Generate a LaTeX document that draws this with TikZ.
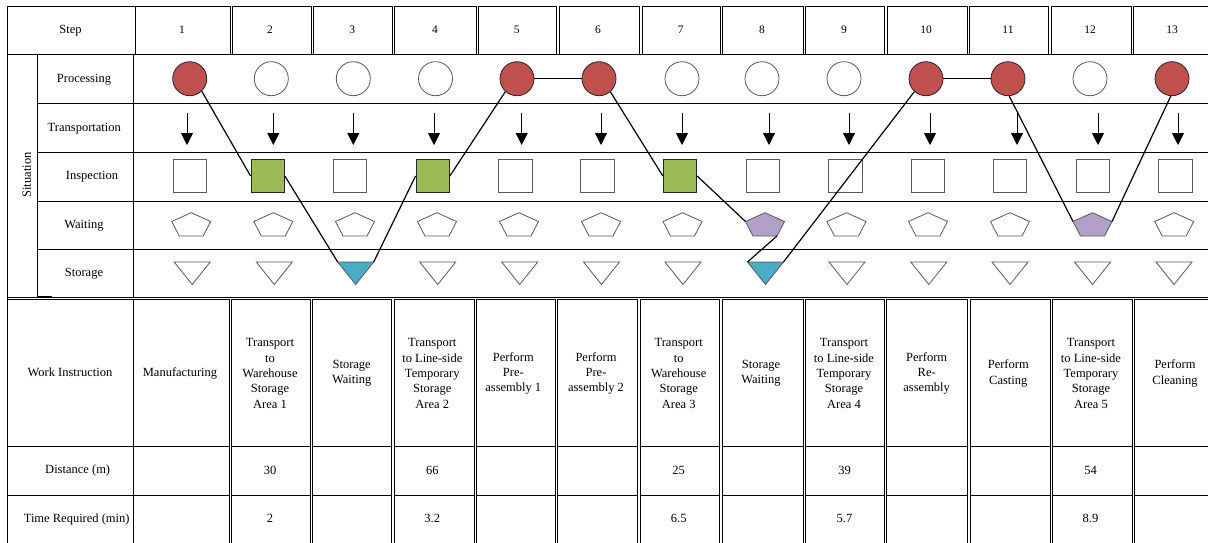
\documentclass[tikz,border=0pt]{standalone}
\usepackage{fontspec}
\setmainfont{Liberation Serif}
\usetikzlibrary{arrows.meta}
\definecolor{procred}{HTML}{C0504D}
\definecolor{inspgreen}{HTML}{9BBB59}
\definecolor{stocyan}{HTML}{4BACC6}
\definecolor{waitpurple}{HTML}{B1A0C7}
\definecolor{shapegray}{HTML}{595959}
\begin{document}
\begin{tikzpicture}[x=1pt,y=-1pt,
  gridline/.style={draw=black,line width=0.7pt},
  lbl/.style={font=\fontsize{12.5}{15.3}\selectfont,inner sep=0pt,text height=8.4pt,text depth=2.6pt},
  hd/.style={font=\fontsize{11.5}{14}\selectfont,inner sep=0pt,text height=7.8pt,text depth=2.4pt},
  mtxt/.style={font=\fontsize{12.5}{15.3}\selectfont,inner sep=0pt,align=center},
  poff/.style={circle,draw=shapegray,line width=0.8pt,minimum size=34pt,inner sep=0pt},
  pon/.style={poff,draw=black!85,fill=procred},
  ioff/.style={rectangle,draw=shapegray,line width=0.8pt,minimum size=33.5pt,inner sep=0pt},
  ion/.style={ioff,draw=black!85,fill=inspgreen},
  shapeline/.style={draw=shapegray,line width=0.8pt,line join=miter},
  conn/.style={draw=black,line width=1.2pt},
  tarrow/.style={-{Triangle[width=12pt,length=12pt]},draw=black,line width=0.8pt}]
\useasboundingbox (0,0) rectangle (1208,542);
\fill[white] (0,0) rectangle (1208,542);

% ---------- header row ----------
\draw[gridline] (7,6) rectangle (135,54);
\draw[gridline] (135,6) rectangle (230,54);
\foreach \l/\r in {232/311,313/392,394/476,478/556.7,559/639,642/720.7,722.7/803,805/884,887/967,969/1048,1051/1131,1133/1215}
  \draw[gridline] (\l,6) rectangle (\r,54);
\node[lbl] (hstep) at (70.5,31) {Step};
\foreach \k/\x in {1/182,2/270,3/352.3,4/435,5/516.7,6/598,7/680.7,8/762,9/844,10/926,11/1008,12/1090,13/1172}
  \node[hd] (h\k) at (\x,31) {\k};

% ---------- situation block ----------
\draw[gridline] (7,54) -- (1215,54);
\draw[gridline] (7,6) -- (7,545);
\draw[gridline] (37,54) -- (37,297);
\draw[gridline] (133,54) -- (133,297);
\foreach \y in {103,152,201,249}
  \draw[gridline] (37,\y) -- (1215,\y);
\draw[gridline] (7,297) -- (1215,297);
\draw[black,line width=1.8pt] (37,297) -- (52,297);

\node[lbl,rotate=90] (sit) at (28,175) {Situation};
\node[lbl] (lproc) at (84,79.3) {Processing};
\node[lbl] (ltrans) at (84.3,128.3) {Transportation};
\node[lbl] (linsp) at (92,176.8) {Inspection};
\node[lbl] (lwait) at (84,225.3) {Waiting};
\node[lbl] (lstor) at (84,273.8) {Storage};

% processing circles
\foreach \k/\x/\st in {1/189.7/pon,2/271.3/poff,3/353.3/poff,4/435.5/poff,5/517/pon,6/599/pon,7/682/poff,8/762/poff,9/844/poff,10/926/pon,11/1008/pon,12/1090/poff,13/1172/pon}
  \node[\st] (p\k) at (\x,78.7) {};

% transportation arrows
\foreach \k/\x in {1/187,2/273.3,3/353.3,4/434,5/521.7,6/601,7/682,8/769,9/849,10/930,11/1017,12/1098,13/1178}{
  \coordinate (a\k-t) at (\x,113);
  \coordinate (a\k-b) at (\x,145);
  \draw[tarrow] (a\k-t) -- (a\k-b);
}

% inspection squares
\foreach \k/\x/\st in {1/189.7/ioff,2/267.7/ion,3/350/ioff,4/432.7/ion,5/515.5/ioff,6/597.5/ioff,7/680/ion,8/762.7/ioff,9/845.3/ioff,10/927.7/ioff,11/1010/ioff,12/1093/ioff,13/1175.3/ioff}
  \node[\st] (i\k) at (\x,176) {};

% waiting pentagons
\foreach \k/\x/\fc in {1/191.2/white,2/273.3/white,3/355/white,4/437/white,5/519/white,6/601/white,7/682.5/white,8/765/waitpurple,9/846.5/white,10/928/white,11/1010/white,12/1092.5/waitpurple,13/1174.2/white}{
  \coordinate (w\k-t) at (\x,212.7);
  \coordinate (w\k-r) at (\x+19.5,221.5);
  \coordinate (w\k-br) at (\x+12,236);
  \coordinate (w\k-bl) at (\x-12,236);
  \coordinate (w\k-l) at (\x-19.5,221.5);
  \draw[shapeline,fill=\fc] (w\k-t) -- (w\k-r) -- (w\k-br) -- (w\k-bl) -- (w\k-l) -- cycle;
}

% storage triangles
\foreach \k/\x/\fc in {1/192.2/white,2/274.3/white,3/355.7/stocyan,4/437.7/white,5/519.7/white,6/601.5/white,7/683/white,8/765.5/stocyan,9/847/white,10/928.8/white,11/1010/white,12/1092.5/white,13/1174/white}{
  \coordinate (s\k-l) at (\x-18,262);
  \coordinate (s\k-r) at (\x+18,262);
  \coordinate (s\k-b) at (\x,284.5);
  \draw[shapeline,fill=\fc] (s\k-l) -- (s\k-r) -- (s\k-b) -- cycle;
}

% flow connectors
\draw[conn] (p1.-46) -- (i2.west);
\draw[conn] (i2.east) -- (s3-l);
\draw[conn] (s3-r) -- (i4.west);
\draw[conn] (i4.east) -- (p5.-132);
\draw[conn] (p5.east) -- (p6.west);
\draw[conn] (p6.-49) -- (i7.west);
\draw[conn] (i7.east) -- (w8-l);
\draw[conn] (w8-br) -- (s8-l);
\draw[conn] (s8-r) -- (p10.-132);
\draw[conn] (p10.east) -- (p11.west);
\draw[conn] (p11.-86) -- (w12-l);
\draw[conn] (w12-r) -- (p13.-94);

% ---------- lower table ----------
\draw[gridline] (7,299) rectangle (133,545);
\draw[gridline] (7,446) -- (133,446);
\draw[gridline] (7,495) -- (133,495);
\foreach \l/\r in {133/229,231/310.7,312.3/391.7,394/474,476/555.3,557/637.7,640/719.3,722/803.3,805.3/884,886.7/967.7,970.3/1050,1052.3/1132.3,1134.7/1215}{
  \draw[gridline] (\l,299) rectangle (\r,545);
  \draw[gridline] (\l,446) -- (\r,446);
  \draw[gridline] (\l,495) -- (\r,495);
}

\node[lbl] (lwi) at (70,373.5) {Work Instruction};
\node[lbl] (ldist) at (77.7,471) {Distance (m)};
\node[lbl] (ltime) at (76.7,520) {Time Required (min)};

\node[lbl] (w1txt) at (180,373.5) {Manufacturing};
\node[mtxt] (w2txt) at (270,373.5) {Transport\\to\\Warehouse\\Storage\\Area 1};
\node[mtxt] (w3txt) at (351.7,373.5) {Storage\\Waiting};
\node[mtxt] (w4txt) at (432.3,373.5) {Transport\\to Line-side\\Temporary\\Storage\\Area 2};
\node[mtxt] (w5txt) at (513.3,373.5) {Perform\\Pre-\\assembly 1};
\node[mtxt] (w6txt) at (596,373.5) {Perform\\Pre-\\assembly 2};
\node[mtxt] (w7txt) at (678.7,373.5) {Transport\\to\\Warehouse\\Storage\\Area 3};
\node[mtxt] (w8txt) at (761,373.5) {Storage\\Waiting};
\node[mtxt] (w9txt) at (844,373.5) {Transport\\to Line-side\\Temporary\\Storage\\Area 4};
\node[mtxt] (w10txt) at (926.7,373.5) {Perform\\Re-\\assembly};
\node[mtxt] (w11txt) at (1008.3,373.5) {Perform\\Casting};
\node[mtxt] (w12txt) at (1091,373.5) {Transport\\to Line-side\\Temporary\\Storage\\Area 5};
\node[mtxt] (w13txt) at (1175,373.5) {Perform\\Cleaning};

\foreach \k/\x/\d/\t in {2/270/30/2,4/432.3/66/3.2,7/678.7/25/6.5,9/844.5/39/5.7,12/1090.5/54/8.9}{
  \node[lbl] (d\k) at (\x,471.5) {\d};
  \node[lbl] (t\k) at (\x,520) {\t};
}
\end{tikzpicture}
\end{document}
